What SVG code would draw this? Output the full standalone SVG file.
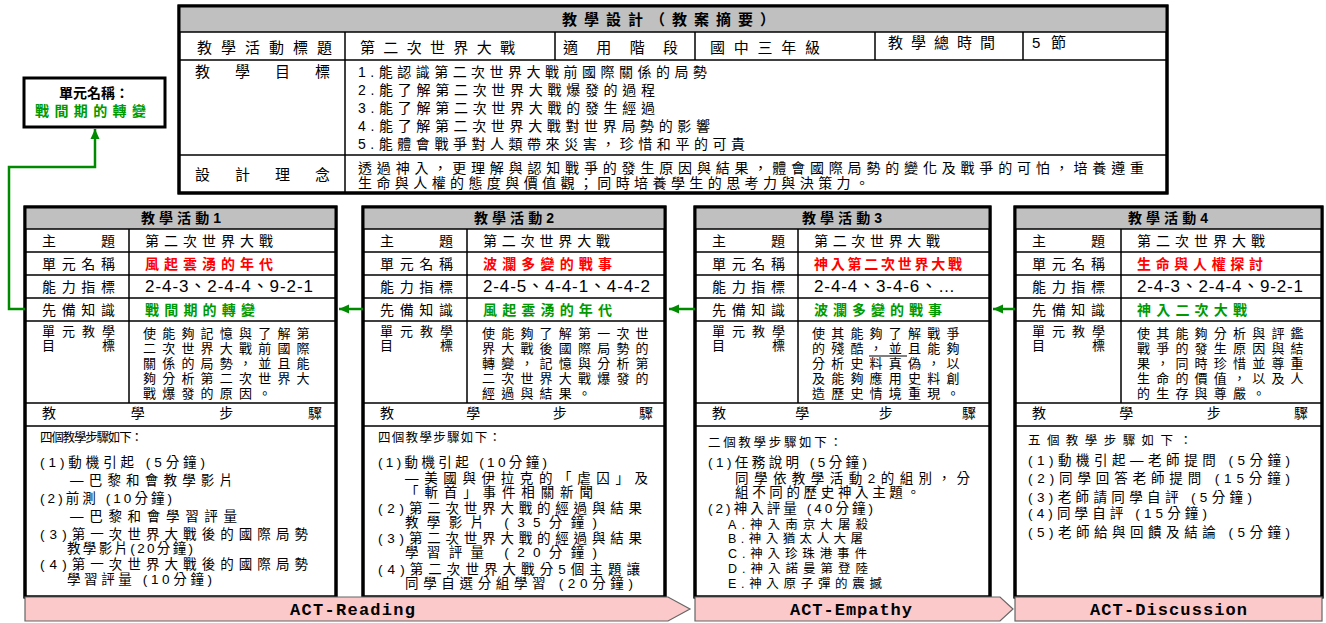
<svg xmlns="http://www.w3.org/2000/svg" width="1326" height="623" viewBox="0 0 1326 623">
<defs>
<style>
.t{font-family:"Liberation Sans","Noto Sans CJK TC",sans-serif;font-size:14px;fill:#000}
.s{font-size:15px}
.st{font-size:13.5px}
.lb{font-size:13px}
.sm{font-size:12.5px}
.b{font-weight:bold}
.red{fill:#ff0000;font-weight:bold}
.grn{fill:#009a00;font-weight:bold}
.num{font-size:17px}
.ob{font-size:13px;letter-spacing:6.2px}
.frame{fill:#fff;stroke:#000;stroke-width:3}
.hd{fill:#c0c0c0;stroke:#000;stroke-width:1.5}
.ln{stroke:#000;stroke-width:1.5;fill:none}
.ban{fill:#fbc9c9;stroke:#666;stroke-width:1.2}
.act{font-family:"Liberation Mono","Noto Sans CJK TC",monospace;font-size:17px;font-weight:bold;fill:#000}
.con{fill:none;stroke:#008a00;stroke-width:2.5}
</style>
<marker id="ah" markerUnits="userSpaceOnUse" markerWidth="12" markerHeight="12" refX="10" refY="6" orient="auto">
<path d="M0,1.5 L10,6 L0,10.5 Z" fill="#008a00"/>
</marker>
</defs>
<rect width="1326" height="623" fill="#fff"/>

<g id="top-table">
<rect x="179" y="6" width="988" height="187" class="frame"/>
<rect x="179" y="6" width="988" height="26" class="hd"/>
<line x1="179" y1="60" x2="1167" y2="60" class="ln"/>
<line x1="179" y1="155" x2="1167" y2="155" class="ln"/>
<line x1="345" y1="32" x2="345" y2="193" class="ln"/>
<line x1="555" y1="32" x2="555" y2="60" class="ln"/>
<line x1="695" y1="32" x2="695" y2="60" class="ln"/>
<line x1="875" y1="32" x2="875" y2="60" class="ln"/>
<line x1="1023" y1="32" x2="1023" y2="60" class="ln"/>
<rect x="179" y="6" width="988" height="187" fill="none" stroke="#000" stroke-width="3"/>
<text class="t s b" x="562" y="25" textLength="213" lengthAdjust="spacing">教學設計（教案摘要）</text>
<text class="t s" x="197" y="53" textLength="135" lengthAdjust="spacing">教學活動標題</text>
<text class="t s" x="360" y="53" textLength="155" lengthAdjust="spacing">第二次世界大戰</text>
<text class="t s" x="563" y="53" textLength="115" lengthAdjust="spacing">適用階段</text>
<text class="t s" x="710" y="53" textLength="110" lengthAdjust="spacing">國中三年級</text>
<text class="t s" x="888" y="48" textLength="107" lengthAdjust="spacing">教學總時間</text>
<text class="t s" x="1032" y="48" textLength="34" lengthAdjust="spacing">5節</text>
<text class="t s" x="195" y="77" textLength="135" lengthAdjust="spacing">教學目標</text>
<text class="t" x="358" y="77" textLength="349" lengthAdjust="spacing">1.能認識第二次世界大戰前國際關係的局勢</text>
<text class="t" x="358" y="95" textLength="297" lengthAdjust="spacing">2.能了解第二次世界大戰爆發的過程</text>
<text class="t" x="358" y="113" textLength="297" lengthAdjust="spacing">3.能了解第二次世界大戰的發生經過</text>
<text class="t" x="358" y="131" textLength="352" lengthAdjust="spacing">4.能了解第二次世界大戰對世界局勢的影響</text>
<text class="t" x="358" y="149" textLength="387" lengthAdjust="spacing">5.能體會戰爭對人類帶來災害，珍惜和平的可貴</text>
<text class="t s" x="195" y="180" textLength="135" lengthAdjust="spacing">設計理念</text>
<text class="t" x="358" y="173" textLength="786" lengthAdjust="spacing">透過神入，更理解與認知戰爭的發生原因與結果，體會國際局勢的變化及戰爭的可怕，培養遵重</text>
<text class="t" x="358" y="188" textLength="511" lengthAdjust="spacing">生命與人權的態度與價值觀；同時培養學生的思考力與決策力。</text>
</g>

<g id="unit-box">
<rect x="24" y="78" width="141" height="49" fill="#fff" stroke="#000" stroke-width="3"/>
<text class="t b" x="94" y="98" text-anchor="middle">單元名稱：</text>
<text class="t grn" x="35" y="116" textLength="111" lengthAdjust="spacing">戰間期的轉變</text>
</g>

<g id="activity-1">
<rect x="25" y="207" width="311" height="390" class="frame"/>
<rect x="25" y="207" width="311" height="22" class="hd"/>
<path class="ln" d="M25,252H336M25,275H336M25,298H336M25,321H336M25,403H336M25,426H336M129,229V403"/>
<rect x="25" y="207" width="311" height="390" fill="none" stroke="#000" stroke-width="3"/>
<text class="t b" x="141" y="223" textLength="80" lengthAdjust="spacing">教學活動1</text>
<text class="t" x="42" y="246" textLength="73" lengthAdjust="spacing">主題</text>
<text class="t" x="42" y="269" textLength="73" lengthAdjust="spacing">單元名稱</text>
<text class="t" x="42" y="292" textLength="73" lengthAdjust="spacing">能力指標</text>
<text class="t" x="42" y="315" textLength="73" lengthAdjust="spacing">先備知識</text>
<text class="t lb" x="42" y="336" textLength="73" lengthAdjust="spacing">單元教學</text>
<text class="t lb" x="42" y="350" textLength="73" lengthAdjust="spacing">目標</text>
<text class="t" x="145" y="246" textLength="128" lengthAdjust="spacing">第二次世界大戰</text>
<text class="t red" x="145" y="269" textLength="128" lengthAdjust="spacing">風起雲湧的年代</text>
<text class="t num" x="145" y="292" textLength="168" lengthAdjust="spacing">2-4-3、2-4-4、9-2-1</text>
<text class="t grn" x="145" y="315" textLength="110" lengthAdjust="spacing">戰間期的轉變</text>
<text class="t ob" x="143" y="338">使能夠記憶與了解第</text>
<text class="t ob" x="143" y="353">二次世界大戰前國際</text>
<text class="t ob" x="143" y="368">關係的局勢，並且能</text>
<text class="t ob" x="143" y="383">夠分析第二次世界大</text>
<text class="t ob" x="143" y="398">戰爆發的原因。</text>
<text class="t" x="42" y="418" textLength="280" lengthAdjust="spacing">教學步驟</text>
<text class="t sm" x="40" y="442" textLength="103" lengthAdjust="spacing">四個教學步驟如下：</text>
<text class="t st" x="40" y="467" textLength="165" lengthAdjust="spacing">(1)動機引起 (5分鐘)</text>
<text class="t st" x="70" y="485" textLength="163" lengthAdjust="spacing">—巴黎和會教學影片</text>
<text class="t st" x="40" y="503" textLength="132" lengthAdjust="spacing">(2)前測 (10分鐘)</text>
<text class="t st" x="70" y="521" textLength="167" lengthAdjust="spacing">—巴黎和會學習評量</text>
<text class="t st" x="40" y="539" textLength="268" lengthAdjust="spacing">(3)第一次世界大戰後的國際局勢</text>
<text class="t st" x="67" y="553" textLength="126" lengthAdjust="spacing">教學影片(20分鐘)</text>
<text class="t st" x="40" y="569" textLength="268" lengthAdjust="spacing">(4)第一次世界大戰後的國際局勢</text>
<text class="t st" x="67" y="584" textLength="145" lengthAdjust="spacing">學習評量 (10分鐘)</text>
</g>

<g id="activity-2">
<rect x="363" y="207" width="302" height="390" class="frame"/>
<rect x="363" y="207" width="302" height="22" class="hd"/>
<path class="ln" d="M363,252H665M363,275H665M363,298H665M363,321H665M363,403H665M363,426H665M467,229V403"/>
<rect x="363" y="207" width="302" height="390" fill="none" stroke="#000" stroke-width="3"/>
<text class="t b" x="474" y="223" textLength="80" lengthAdjust="spacing">教學活動2</text>
<text class="t" x="380" y="246" textLength="73" lengthAdjust="spacing">主題</text>
<text class="t" x="380" y="269" textLength="73" lengthAdjust="spacing">單元名稱</text>
<text class="t" x="380" y="292" textLength="73" lengthAdjust="spacing">能力指標</text>
<text class="t" x="380" y="315" textLength="73" lengthAdjust="spacing">先備知識</text>
<text class="t lb" x="380" y="336" textLength="73" lengthAdjust="spacing">單元教學</text>
<text class="t lb" x="380" y="350" textLength="73" lengthAdjust="spacing">目標</text>
<text class="t" x="483" y="246" textLength="127" lengthAdjust="spacing">第二次世界大戰</text>
<text class="t red" x="483" y="269" textLength="129" lengthAdjust="spacing">波瀾多變的戰事</text>
<text class="t num" x="483" y="292" textLength="167" lengthAdjust="spacing">2-4-5、4-4-1、4-4-2</text>
<text class="t grn" x="483" y="315" textLength="129" lengthAdjust="spacing">風起雲湧的年代</text>
<text class="t ob" x="482" y="338">使能夠了解第一次世</text>
<text class="t ob" x="482" y="353">界大戰後國際局勢的</text>
<text class="t ob" x="482" y="368">轉變，記憶與分析第</text>
<text class="t ob" x="482" y="383">二次世界大戰爆發的</text>
<text class="t ob" x="482" y="398">經過與結果。</text>
<text class="t" x="380" y="418" textLength="273" lengthAdjust="spacing">教學步驟</text>
<text class="t sm" x="378" y="442" textLength="123" lengthAdjust="spacing">四個教學步驟如下：</text>
<text class="t st" x="378" y="467" textLength="169" lengthAdjust="spacing">(1)動機引起 (10分鐘)</text>
<text class="t st" x="405" y="483" textLength="243" lengthAdjust="spacing">—美國與伊拉克的「虐囚」及</text>
<text class="t st" x="405" y="497" textLength="188" lengthAdjust="spacing">「斬首」事件相關新聞</text>
<text class="t st" x="378" y="513" textLength="264" lengthAdjust="spacing">(2)第二次世界大戰的經過與結果</text>
<text class="t st" x="405" y="527" textLength="192" lengthAdjust="spacing">教學影片 (35分鐘)</text>
<text class="t st" x="378" y="543" textLength="264" lengthAdjust="spacing">(3)第二次世界大戰的經過與結果</text>
<text class="t st" x="405" y="557" textLength="192" lengthAdjust="spacing">學習評量 (20分鐘)</text>
<text class="t st" x="378" y="574" textLength="262" lengthAdjust="spacing">(4)第二次世界大戰分5個主題讓</text>
<text class="t st" x="405" y="588" textLength="228" lengthAdjust="spacing">同學自選分組學習 (20分鐘)</text>
</g>

<g id="activity-3">
<rect x="695" y="207" width="295" height="390" class="frame"/>
<rect x="695" y="207" width="295" height="22" class="hd"/>
<path class="ln" d="M695,252H990M695,275H990M695,298H990M695,321H990M695,403H990M695,426H990M798,229V403"/>
<rect x="695" y="207" width="295" height="390" fill="none" stroke="#000" stroke-width="3"/>
<text class="t b" x="802" y="223" textLength="80" lengthAdjust="spacing">教學活動3</text>
<text class="t" x="712" y="246" textLength="73" lengthAdjust="spacing">主題</text>
<text class="t" x="712" y="269" textLength="73" lengthAdjust="spacing">單元名稱</text>
<text class="t" x="712" y="292" textLength="73" lengthAdjust="spacing">能力指標</text>
<text class="t" x="712" y="315" textLength="73" lengthAdjust="spacing">先備知識</text>
<text class="t lb" x="712" y="336" textLength="73" lengthAdjust="spacing">單元教學</text>
<text class="t lb" x="712" y="350" textLength="73" lengthAdjust="spacing">目標</text>
<text class="t" x="814" y="246" textLength="126" lengthAdjust="spacing">第二次世界大戰</text>
<text class="t red" x="814" y="269" textLength="148" lengthAdjust="spacing">神入第二次世界大戰</text>
<text class="t num" x="814" y="292" textLength="141" lengthAdjust="spacing">2-4-4、3-4-6、…</text>
<text class="t grn" x="814" y="315" textLength="128" lengthAdjust="spacing">波瀾多變的戰事</text>
<text class="t ob" x="812" y="338">使其能夠了解戰爭</text>
<text class="t ob" x="812" y="353">的殘酷，並且能夠</text>
<line x1="869" y1="356" x2="907" y2="356" stroke="#000" stroke-width="1"/>
<text class="t ob" x="812" y="368">分析史料真偽，以</text>
<text class="t ob" x="812" y="383">及能夠應用史料創</text>
<text class="t ob" x="812" y="398">造歷史情境重現。</text>
<text class="t" x="712" y="418" textLength="264" lengthAdjust="spacing">教學步驟</text>
<text class="t sm" x="708" y="447" textLength="134" lengthAdjust="spacing">二個教學步驟如下：</text>
<text class="t st" x="708" y="467" textLength="159" lengthAdjust="spacing">(1)任務說明 (5分鐘)</text>
<text class="t st" x="735" y="483" textLength="235" lengthAdjust="spacing">同學依教學活動2的組別，分</text>
<text class="t st" x="735" y="497" textLength="185" lengthAdjust="spacing">組不同的歷史神入主題。</text>
<text class="t st" x="708" y="513" textLength="165" lengthAdjust="spacing">(2)神入評量 (40分鐘)</text>
<text class="t sm" x="728" y="529" textLength="140" lengthAdjust="spacing">A.神入南京大屠殺</text>
<text class="t sm" x="728" y="543" textLength="135" lengthAdjust="spacing">B.神入猶太人大屠</text>
<text class="t sm" x="728" y="558" textLength="139" lengthAdjust="spacing">C.神入珍珠港事件</text>
<text class="t sm" x="728" y="573" textLength="140" lengthAdjust="spacing">D.神入諾曼第登陸</text>
<text class="t sm" x="728" y="588" textLength="154" lengthAdjust="spacing">E.神入原子彈的震撼</text>
</g>

<g id="activity-4">
<rect x="1015" y="207" width="307" height="390" class="frame"/>
<rect x="1015" y="207" width="307" height="22" class="hd"/>
<path class="ln" d="M1015,252H1322M1015,275H1322M1015,298H1322M1015,321H1322M1015,403H1322M1015,426H1322M1121,229V403"/>
<rect x="1015" y="207" width="307" height="390" fill="none" stroke="#000" stroke-width="3"/>
<text class="t b" x="1128" y="223" textLength="80" lengthAdjust="spacing">教學活動4</text>
<text class="t" x="1032" y="246" textLength="73" lengthAdjust="spacing">主題</text>
<text class="t" x="1032" y="269" textLength="73" lengthAdjust="spacing">單元名稱</text>
<text class="t" x="1032" y="292" textLength="73" lengthAdjust="spacing">能力指標</text>
<text class="t" x="1032" y="315" textLength="73" lengthAdjust="spacing">先備知識</text>
<text class="t lb" x="1032" y="336" textLength="73" lengthAdjust="spacing">單元教學</text>
<text class="t lb" x="1032" y="350" textLength="73" lengthAdjust="spacing">目標</text>
<text class="t" x="1137" y="246" textLength="128" lengthAdjust="spacing">第二次世界大戰</text>
<text class="t red" x="1137" y="269" textLength="126" lengthAdjust="spacing">生命與人權探討</text>
<text class="t num" x="1137" y="292" textLength="166" lengthAdjust="spacing">2-4-3、2-4-4、9-2-1</text>
<text class="t grn" x="1137" y="315" textLength="110" lengthAdjust="spacing">神入二次大戰</text>
<text class="t ob" x="1137" y="338">使其能夠分析與評鑑</text>
<text class="t ob" x="1137" y="353">戰爭的發生原因與結</text>
<text class="t ob" x="1137" y="368">果，同時珍惜並尊重</text>
<text class="t ob" x="1137" y="383">生命的價值，以及人</text>
<text class="t ob" x="1137" y="398">的生存與尊嚴。</text>
<text class="t" x="1032" y="418" textLength="276" lengthAdjust="spacing">教學步驟</text>
<text class="t sm" x="1028" y="445" textLength="164" lengthAdjust="spacing">五個教學步驟如下：</text>
<text class="t st" x="1028" y="465" textLength="262" lengthAdjust="spacing">(1)動機引起—老師提問 (5分鐘)</text>
<text class="t st" x="1028" y="483" textLength="262" lengthAdjust="spacing">(2)同學回答老師提問 (15分鐘)</text>
<text class="t st" x="1028" y="502" textLength="224" lengthAdjust="spacing">(3)老師請同學自評 (5分鐘)</text>
<text class="t st" x="1028" y="518" textLength="179" lengthAdjust="spacing">(4)同學自評 (15分鐘)</text>
<text class="t st" x="1028" y="537" textLength="262" lengthAdjust="spacing">(5)老師給與回饋及結論 (5分鐘)</text>
</g>

<g id="banners">
<polygon class="ban" points="25,597 668,597 690,609 668,621 25,621"/>
<text class="act" x="290" y="615" textLength="125" lengthAdjust="spacing">ACT-Reading</text>
<polygon class="ban" points="695,597 1000,597 1013,609 1000,621 695,621"/>
<text class="act" x="790" y="615" textLength="122" lengthAdjust="spacing">ACT-Empathy</text>
<rect class="ban" x="1015" y="597" width="307" height="24"/>
<text class="act" x="1090" y="615" textLength="157" lengthAdjust="spacing">ACT-Discussion</text>
</g>

<g id="connectors">
<path class="con" d="M363,309H339" marker-end="url(#ah)"/>
<path class="con" d="M695,309H669" marker-end="url(#ah)"/>
<path class="con" d="M1015,309H993" marker-end="url(#ah)"/>
<path class="con" d="M25,309H9V167H95V129" marker-end="url(#ah)"/>
</g>
</svg>
